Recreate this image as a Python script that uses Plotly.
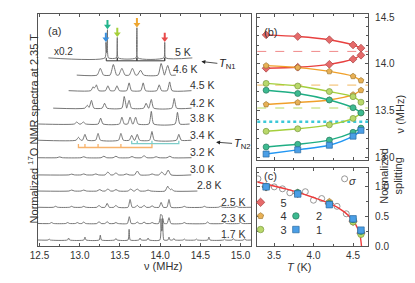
import plotly.graph_objects as go

W, H = 415, 283
FONT = "Liberation Sans, Arial, sans-serif"
AX = "#555555"
TXT = "#333333"

# ---------------- panel (a): 17O NMR spectra ----------------
temps_a = ["5 K", "4.6 K", "4.5 K", "4.2 K", "3.8 K", "3.4 K",
           "3.2 K", "3.0 K", "2.8 K", "2.5 K", "2.3 K", "1.7 K"]
spec_start = [12.61, 12.963, 12.862, 12.67, 12.476, 12.476,
              12.476, 12.476, 12.476, 12.476, 12.476, 12.476]
spec_end = [14.40, 14.195, 14.39, 14.39, 14.366, 14.39,
            14.39, 14.387, 14.463, 15.134, 15.134, 15.134]
peak_pos = [
    [13.325, 13.345, 13.467, 13.711, 14.057],
    [13.256, 13.418, 13.524, 13.655, 13.756, 14.012, 14.094],
    [13.167, 13.207, 13.35, 13.463, 13.614, 13.789, 13.988, 14.118],
    [13.094, 13.146, 13.309, 13.553, 13.614, 13.825, 13.89, 14.175],
    [12.963, 13.045, 13.26, 13.524, 13.626, 13.695, 13.89, 14.215],
    [12.984, 13.065, 13.228, 13.512, 13.646, 13.715, 13.898, 14.232],
    [12.75, 13.05, 13.3, 13.45, 13.65, 13.8, 13.95, 14.12],
    [12.9, 13.05, 13.2, 13.35, 13.45, 13.58, 13.716, 13.9, 14.02, 14.10],
    [12.9, 13.05, 13.248, 13.35, 13.451, 13.634, 13.715, 13.85, 14.094, 14.14],
    [12.7, 12.9, 13.05, 13.24, 13.341, 13.45, 13.626, 13.715, 13.8, 13.9,
     14.012, 14.11, 14.3, 14.55, 14.75, 14.95],
    [12.65, 12.85, 12.97, 13.05, 13.24, 13.341, 13.45, 13.616, 13.715, 13.8,
     13.9, 14.005, 14.025, 14.11, 14.3, 14.59, 14.8, 15.0],
    [12.62, 12.862, 13.065, 13.256, 13.45, 13.614, 13.75, 13.85, 14.01, 14.032,
     14.11, 14.17, 14.3, 14.45, 14.606, 14.8, 14.91, 15.05],
]
peak_amp = [
    [16, 29, 21, 31, 16],
    [7, 11, 7, 7, 5, 12, 10],
    [4, 6, 5, 5, 8, 8, 6, 9],
    [3, 8, 5, 12, 8, 5, 9, 10],
    [2, 2, 6, 7, 7, 7, 13, 12],
    [3, 6, 7, 7, 5, 6, 9, 6],
    [0.8, 1, 1.5, 1.5, 1.2, 2, 1, 1.5],
    [0.8, 1, 1, 3, 2, 1, 4, 1, 3, 5],
    [1, 1, 1.5, 2, 1.5, 2, 2, 1, 5, 2],
    [1, 1, 1, 2, 4, 2, 8, 2, 2, 1.5, 5, 8, 1, 1, 1, 1],
    [1, 1, 1, 1.5, 2, 2, 1, 7, 1.5, 1.5, 1, 8, 7, 6, 1, 1.5, 1, 1],
    [1, 2, 3, 5, 1.5, 11, 2, 2, 22, 22, 3, 1.5, 1, 1, 3, 1, 1.5, 1.5],
]
# 5 K peaks marked by coloured arrows: index into the 5 K list
arrow_idx = [0, 1, 2, 3, 4]
arrow_col = ["#3a8fdc", "#22b48c", "#a6cf3a", "#eea62f", "#e84a4a"]
# brackets (MHz)
bracket_5K = [13.33, 13.467, 13.711, 14.057]
bracket_cyan = [13.646, 13.715, 13.898, 14.232]
bracket_orange = [12.984, 13.065, 13.228, 13.512, 13.898]

# layout constants for panel (a) (vertical stacking, label placement)
spec_offset = [193.7, 176, 160, 142, 125.7, 109, 91, 73.3, 56.7, 40, 23.3, 6.3]
peak_hw = [0.012, 0.04, 0.03, 0.03, 0.03, 0.03, 0.035, 0.035, 0.035, 0.026, 0.024, 0.014]
label_right_px = [180, 188, 205, 205, 205, 205, 205, 205, 212, 237, 237, 237]

# ---------------- panel (b): line frequencies ----------------
T_b = [3.4, 3.8, 4.2, 4.5, 4.6]
nu5_hi = [14.310, 14.292, 14.258, 14.202, 14.168]
nu5_lo = [13.953, 13.964, 13.995, 14.050, 14.092]
nu4_hi = [13.981, 13.960, 13.919, 13.867, 13.822]
nu4_lo = [13.566, 13.587, 13.614, 13.670, 13.718]
nu3_hi = [13.791, 13.763, 13.704, 13.649, 13.590]
nu3_lo = [13.279, 13.306, 13.348, 13.417, 13.476]
nu2_hi = [13.718, 13.683, 13.614, 13.531, 13.476]
nu2_lo = [13.112, 13.140, 13.185, 13.268, 13.313]
nu1 = [13.036, 13.081, 13.130, 13.227, 13.289]
nu_ref = [14.133, 13.773, 13.528, 13.382]

# ---------------- panel (c): normalized splitting ----------------
T_sigma = [3.297, 3.40, 3.503, 3.607, 3.70, 3.793, 3.896, 3.999, 4.103,
           4.20, 4.297, 4.393, 4.414, 4.50, 4.60]
sigma = [1.136, 1.0, 1.0, 0.967, 0.90, 0.90, 0.918, 0.775, 0.803,
         0.72, 0.672, 1.136, 0.546, 0.42, 0.218]
T_fit = [3.288, 3.462, 3.65, 3.813, 4.0, 4.207, 4.393, 4.496, 4.558, 4.591, 4.607]
fit = [1.082, 1.027, 0.965, 0.902, 0.82, 0.721, 0.574, 0.437, 0.30, 0.164, 0.0]
split5 = [1.0, 0.89, 0.72, 0.42, 0.22]
split4 = [1.0, 0.90, 0.75, 0.41, 0.22]
split3 = [1.0, 0.89, 0.72, 0.41, 0.20]
split2 = [1.0, 0.90, 0.71, 0.45, 0.25]
split1 = [1.0, 0.88, 0.70, 0.46, 0.27]
series_names = ["5", "4", "3", "2", "1"]

# ---------------- styles ----------------
S_LINE = ["#e8403f", "#f0a02a", "#a5cf3c", "#1fae84", "#2196f3"]
S_FILL = ["#e66a6a", "#e8b055", "#b9d86a", "#3dba90", "#4a9ee6"]
S_EDGE = ["#a84040", "#a07a30", "#7a9a40", "#2a7a60", "#2a6aa0"]
S_SYM = ["diamond", "pentagon", "circle", "circle", "square"]
REF_COL = ["#f08a8a", "#f2b860", "#b8d860", "#3cc8d8"]
# legend key placement (px, symbol centre) in panel (c)
LEG_PX = [(258, 203), (258, 217), (258, 231), (294, 217), (294, 231)]

def px2x(px):
    return 12.5 + (px - 24) / 82.0

fig = go.Figure()

# spectra
for i, name in enumerate(temps_a):
    f0, f1, hw = spec_start[i], spec_end[i], peak_hw[i]
    xs = {f0, f1}
    for p in peak_pos[i]:
        xs.update([p - hw, p, p + hw])
    xs = sorted(x for x in xs if f0 <= x <= f1)
    ys = [spec_offset[i] + sum(max(0.0, a * (1 - abs(x - p) / hw))
                                for p, a in zip(peak_pos[i], peak_amp[i])) for x in xs]
    fig.add_trace(go.Scatter(x=xs, y=ys, mode="lines",
                             line=dict(color="#666666", width=0.9, shape="spline", smoothing=0.5),
                             xaxis="x", yaxis="y", showlegend=False, hoverinfo="skip"))

# coloured arrows above the 5 K peaks
for k, j in enumerate(arrow_idx):
    p = peak_pos[0][j]
    top = spec_offset[0] + peak_amp[0][j]
    fig.add_trace(go.Scatter(x=[p, p], y=[top + 4, top + 10], mode="lines",
                             line=dict(color=arrow_col[k], width=2),
                             xaxis="x", yaxis="y", showlegend=False, hoverinfo="skip"))
    fig.add_trace(go.Scatter(x=[p], y=[top + 3.5], mode="markers",
                             marker=dict(symbol="triangle-down", size=6, color=arrow_col[k], line=dict(width=0)),
                             xaxis="x", yaxis="y", showlegend=False, hoverinfo="skip"))

def bracket(pos, base, top):
    bx, by = [pos[0]], [top]
    for k, p in enumerate(pos):
        if k > 0:
            bx += [p, p, p]
            by += [base, top, base]
        else:
            bx.append(p)
            by.append(base)
    return bx, by

bx, by = bracket(bracket_5K, spec_offset[0] - 3, spec_offset[0])
fig.add_trace(go.Scatter(x=bx, y=by, mode="lines", line=dict(color="#333333", width=1),
                         xaxis="x", yaxis="y", showlegend=False, hoverinfo="skip"))
bx, by = bracket(bracket_cyan, spec_offset[5] - 3.5, spec_offset[5] - 0.5)
fig.add_trace(go.Scatter(x=bx, y=by, mode="lines", line=dict(color="#7ecdc9", width=1.3),
                         xaxis="x", yaxis="y", showlegend=False, hoverinfo="skip"))
bx, by = bracket(bracket_orange, spec_offset[5] - 7.5, spec_offset[5] - 4)
fig.add_trace(go.Scatter(x=bx, y=by, mode="lines", line=dict(color="#f7b26b", width=1.3),
                         xaxis="x", yaxis="y", showlegend=False, hoverinfo="skip"))

# panel (b)
branches = [(nu5_hi, 0), (nu5_lo, 0), (nu4_hi, 1), (nu4_lo, 1), (nu3_hi, 2),
            (nu3_lo, 2), (nu2_hi, 3), (nu2_lo, 3), (nu1, 4)]
for vals, s in branches:
    fig.add_trace(go.Scatter(
        x=T_b, y=vals, mode="lines+markers", xaxis="x2", yaxis="y2",
        line=dict(color=S_LINE[s], width=1.4, shape="spline", smoothing=0.8),
        marker=dict(symbol=S_SYM[s], size=6, color=S_FILL[s], line=dict(color=S_EDGE[s], width=0.7)),
        showlegend=False, hoverinfo="skip"))

# panel (c)
fig.add_trace(go.Scatter(x=T_sigma, y=sigma, mode="markers", xaxis="x3", yaxis="y3",
                         marker=dict(symbol="circle-open", size=6, color="#8a8a8a", line=dict(width=0.9)),
                         showlegend=False, hoverinfo="skip"))
fig.add_trace(go.Scatter(x=T_fit, y=fit, mode="lines", xaxis="x3", yaxis="y3",
                         line=dict(color="#ee3b3b", width=1.4, shape="spline", smoothing=0.6),
                         showlegend=False, hoverinfo="skip"))
legend_names = ["legend", "legend2", "legend3", "legend4", "legend5"]
for s, vals in enumerate([split5, split4, split3, split2, split1]):
    fig.add_trace(go.Scatter(
        x=T_b, y=vals, mode="markers", xaxis="x3", yaxis="y3", name=series_names[s],
        marker=dict(symbol=S_SYM[s], size=6.5, color=S_FILL[s], line=dict(color=S_EDGE[s], width=0.7)),
        legend=legend_names[s], showlegend=True, hoverinfo="skip"))

# reference (5 K) lines in panel (b)
shapes = []
for k, v in enumerate(nu_ref):
    shapes.append(dict(type="line", xref="x2 domain", yref="y2", x0=0, x1=1, y0=v, y1=v,
                       line=dict(color=REF_COL[k], width=2.5 if k == 3 else 1,
                                 dash="dot" if k == 3 else "dash"), layer="below"))

ann = []
def A(text, x, y, size=11, **kw):
    d = dict(text=text, x=x, y=y, xref="paper", yref="paper", showarrow=False,
             font=dict(family=FONT, size=size, color=kw.pop("color", TXT)))
    d.update(kw)
    ann.append(d)

# spectrum labels
for i, name in enumerate(temps_a):
    ann.append(dict(text=name, x=px2x(label_right_px[i]), y=spec_offset[i] + 5.8, xref="x", yref="y",
                    xanchor="right", yanchor="middle", showarrow=False,
                    font=dict(family=FONT, size=10.5, color=TXT)))
ann.append(dict(text="x0.2", x=px2x(48), y=200.3, xref="x", yref="y", showarrow=False,
                font=dict(family=FONT, size=10, color=TXT)))
# transitions
ann.append(dict(text="<i>T</i><sub>N1</sub>", x=px2x(189), y=190, xref="x", yref="y",
                showarrow=True, ax=26, ay=3, arrowhead=2, arrowsize=1, arrowwidth=0.8,
                arrowcolor="#222222", standoff=0, font=dict(family=FONT, size=11, color="#222222")))
ann.append(dict(text="<i>T</i><sub>N2</sub>", x=px2x(204), y=107, xref="x", yref="y",
                showarrow=True, ax=26, ay=2, arrowhead=2, arrowsize=1, arrowwidth=0.8,
                arrowcolor="#222222", standoff=0, font=dict(family=FONT, size=11, color="#222222")))

# panel labels and axis titles
A("(a)", 31 / W, 1 - 13 / H, 11)
A("(b)", 259 / W, 1 - 14 / H, 11)
A("(c)", 259 / W, 1 - 171 / H, 11)
A("<i>σ</i>", 349 / W, 1 - 176 / H, 11)
A("ν (MHz)", 128 / W, 1 - 272 / H, 11)
A("<i>T</i> (K)", 303 / W, 1 - 273 / H, 11)
A("Normalized <sup>17</sup>O NMR spectra at 2.35 T", 8 / W, 1 - 122 / H, 11, textangle=-90)
A("ν (MHz)", 400 / W, 1 - 85 / H, 11, textangle=-90)
A("Normalized<br>splitting", 398 / W, 1 - 201 / H, 11, textangle=-90)

def axis(domain, rng, anchor, **kw):
    d = dict(domain=domain, range=rng, anchor=anchor, showline=True, linecolor=AX, linewidth=1,
             mirror="allticks", ticks="inside", ticklen=3, tickcolor=AX, tickwidth=1,
             showgrid=False, zeroline=False, tickfont=dict(family=FONT, size=10, color=TXT))
    d.update(kw)
    return d

minor = lambda dt: dict(dtick=dt, ticks="inside", ticklen=2, tickcolor=AX, showgrid=False)

legends = {}
for s, (lx, ly) in enumerate(LEG_PX):
    legends[legend_names[s]] = dict(x=(lx - 29) / W, y=1 - (ly - 20) / H, xanchor="left", yanchor="top",
                                    bgcolor="rgba(0,0,0,0)", font=dict(family=FONT, size=11, color=TXT),
                                    itemwidth=30)

fig.update_layout(
    width=W, height=H, margin=dict(l=0, r=0, t=0, b=0),
    paper_bgcolor="white", plot_bgcolor="white",
    xaxis=axis([22 / W, 240 / W], [12.476, 15.134], "y", dtick=0.5, tick0=12.5,
               tickformat=".1f", minor=minor(0.25)),
    yaxis=axis([1 - 243 / H, 1 - 4 / H], [0, 239], "x", ticks="", showticklabels=False, mirror=True),
    xaxis2=axis([246 / W, 359 / W], [3.288, 4.69], "y2", dtick=0.5, tick0=3.5,
                showticklabels=False, minor=minor(0.25)),
    yaxis2=axis([1 - 154 / H, 1 - 4 / H], [12.976, 14.534], "x2", side="right", dtick=0.5,
                tick0=13.0, tickformat=".1f", minor=minor(0.1), ticklabelstandoff=4),
    xaxis3=axis([246 / W, 359 / W], [3.288, 4.69], "y3", dtick=0.5, tick0=3.5,
                tickformat=".1f", minor=minor(0.25)),
    yaxis3=axis([1 - 243 / H, 1 - 162.5 / H], [0, 1.32], "x3", side="right", dtick=0.5,
                tick0=0, tickformat=".1f", minor=minor(0.25), ticklabelstandoff=4),
    shapes=shapes, annotations=ann,
    **legends,
)

fig.write_html("out.html")
